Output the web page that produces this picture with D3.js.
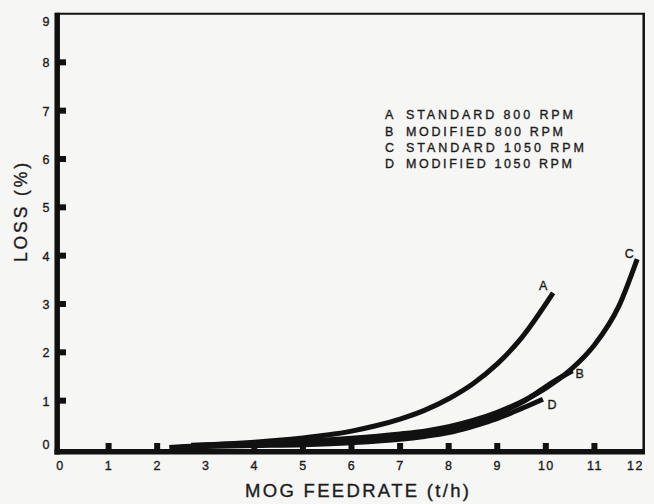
<!DOCTYPE html>
<html>
<head>
<meta charset="utf-8">
<script src="https://cdn.jsdelivr.net/npm/d3@7"></script>
<style>
  html, body { margin: 0; padding: 0; background: #f6f6f5; }
  svg { display: block; }
  text { font-family: "Liberation Sans", Arial, Helvetica, sans-serif; fill: #1c1c1c; stroke: #1c1c1c; stroke-width: 0.35px; }
</style>
</head>
<body>
<svg id="chart" width="654" height="504"></svg>
<script>
// Axis ticks
const feedTicks = [0, 1, 2, 3, 4, 5, 6, 7, 8, 9, 10, 11, 12];
const lossTicks = [0, 1, 2, 3, 4, 5, 6, 7, 8, 9];

// Curve keys and their legend text
const curveKeys = ["A", "B", "C", "D"];
const curveNames = ["STANDARD 800 RPM", "MODIFIED 800 RPM", "STANDARD 1050 RPM", "MODIFIED 1050 RPM"];

// Loss (%) against MOG feedrate (t/h), one pair of arrays per curve
const feedA = [2.7, 3.5, 4.0, 4.5, 5.0, 5.5, 6.0, 6.5, 7.0, 7.5, 8.0, 8.5, 9.0, 9.5, 10.15];
const lossA = [0.08, 0.11, 0.14, 0.18, 0.23, 0.29, 0.37, 0.48, 0.62, 0.8, 1.04, 1.35, 1.76, 2.3, 3.23];

const feedB = [2.7, 3.0, 4.0, 5.0, 6.0, 7.0, 7.5, 8.0, 8.5, 9.0, 9.5, 10.2, 10.55];
const lossB = [0.06, 0.07, 0.09, 0.12, 0.17, 0.26, 0.33, 0.43, 0.56, 0.73, 0.96, 1.42, 1.62];

const feedC = [2.25, 3.0, 4.0, 5.0, 6.0, 7.0, 7.5, 8.0, 8.5, 9.0, 9.5, 10.0, 10.5, 11.0, 11.5, 11.88];
const lossC = [0.03, 0.08, 0.12, 0.16, 0.22, 0.31, 0.37, 0.46, 0.59, 0.76, 0.98, 1.26, 1.63, 2.15, 2.95, 3.93];

const feedD = [2.5, 3.0, 4.0, 5.0, 6.0, 7.0, 7.5, 8.0, 8.4, 8.8, 9.2, 9.6, 9.94];
const lossD = [0.04, 0.05, 0.07, 0.09, 0.13, 0.2, 0.26, 0.34, 0.44, 0.56, 0.71, 0.88, 1.03];

const curves = [
  { key: "A", feed: feedA, loss: lossA },
  { key: "B", feed: feedB, loss: lossB },
  { key: "C", feed: feedC, loss: lossC },
  { key: "D", feed: feedD, loss: lossD }
];

// Where each curve's letter sits relative to the curve's last point (px)
const labelOffsets = { A: [-10, -3], B: [7, 7], C: [-8, -1], D: [9, 10] };

const svg = d3.select("#chart");

const x = d3.scaleLinear().domain([0, 12]).range([60, 643]);
const y = d3.scaleLinear().domain([0, 9]).range([449, 14]);

// Curves
const line = d3.line()
  .x(d => x(d[0]))
  .y(d => y(d[1]))
  .curve(d3.curveMonotoneX);

svg.append("g")
  .selectAll("path")
  .data(curves)
  .join("path")
  .attr("d", c => line(c.feed.map((f, i) => [f, c.loss[i]])))
  .attr("fill", "none")
  .attr("stroke", "#111")
  .attr("stroke-width", 5)
  .attr("stroke-linecap", "butt");

// Curve letters
svg.append("g")
  .selectAll("text")
  .data(curves)
  .join("text")
  .attr("x", c => x(c.feed[c.feed.length - 1]) + labelOffsets[c.key][0])
  .attr("y", c => y(c.loss[c.loss.length - 1]) + labelOffsets[c.key][1])
  .attr("text-anchor", "middle")
  .attr("font-size", 12.5)
  .text(c => c.key);

// Frame: heavy left and bottom axes, light top and right edges
const frame = svg.append("g").attr("stroke", "#111");
frame.append("line").attr("x1", 57.2).attr("x2", 57.2).attr("y1", 12.7).attr("y2", 454.5).attr("stroke-width", 5.5);
frame.append("line").attr("x1", 54.5).attr("x2", 645).attr("y1", 451.7).attr("y2", 451.7).attr("stroke-width", 5.5);
frame.append("line").attr("x1", 55).attr("x2", 645).attr("y1", 13.7).attr("y2", 13.7).attr("stroke-width", 2);
frame.append("line").attr("x1", 643.7).attr("x2", 643.7).attr("y1", 13).attr("y2", 454).attr("stroke-width", 2.5);

// Square tick marks inside the frame
svg.append("g")
  .selectAll("rect")
  .data(feedTicks.filter(v => v > 0 && v < 12))
  .join("rect")
  .attr("x", v => x(v) - 3)
  .attr("y", 443)
  .attr("width", 6)
  .attr("height", 7)
  .attr("fill", "#111");

svg.append("g")
  .selectAll("rect")
  .data(lossTicks.filter(v => v > 0 && v < 9))
  .join("rect")
  .attr("x", 58)
  .attr("y", v => y(v) - 3)
  .attr("width", 8)
  .attr("height", 6)
  .attr("fill", "#111");

// Axis labels
const xAxis = svg.append("g")
  .attr("transform", "translate(0,449)")
  .call(d3.axisBottom(x).tickValues(feedTicks).tickFormat(d3.format("d")).tickSize(0).tickPadding(12));
xAxis.select(".domain").remove();
xAxis.selectAll("text")
  .attr("font-size", 12.5)
  .attr("font-family", "\"Liberation Sans\", Arial, sans-serif")
  .attr("fill", "#1c1c1c")
  .style("letter-spacing", "1.5px")
  .attr("dx", d => d === 12 ? -8 : 0);

const yAxis = svg.append("g")
  .attr("transform", "translate(60,0)")
  .call(d3.axisLeft(y).tickValues(lossTicks).tickFormat(d3.format("d")).tickSize(0));
yAxis.select(".domain").remove();
yAxis.selectAll("text")
  .attr("text-anchor", "middle")
  .attr("x", -14)
  .attr("font-size", 12.5)
  .attr("font-family", "\"Liberation Sans\", Arial, sans-serif")
  .attr("fill", "#1c1c1c")
  .attr("dy", d => d === 0 ? "-0.08em" : d === 9 ? "0.95em" : "0.35em");

// Axis titles
svg.append("text")
  .attr("transform", "translate(27,212.5) rotate(-90)")
  .attr("text-anchor", "middle")
  .attr("font-size", 17.5)
  .attr("textLength", 99)
  .attr("lengthAdjust", "spacing")
  .text("LOSS (%)");

svg.append("text")
  .attr("x", 245)
  .attr("y", 497)
  .attr("font-size", 18.5)
  .attr("textLength", 224)
  .attr("lengthAdjust", "spacing")
  .text("MOG FEEDRATE (t/h)");

// Legend
const legendWidths = [167, 157, 178, 166];
const legend = svg.append("g");
curveKeys.forEach((k, i) => {
  const baseY = 119.3 + i * 16.3;
  legend.append("text")
    .attr("x", 385)
    .attr("y", baseY)
    .attr("font-size", 12.5)
    .text(k);
  legend.append("text")
    .attr("x", 406)
    .attr("y", baseY)
    .attr("font-size", 12.5)
    .attr("textLength", legendWidths[i])
    .attr("lengthAdjust", "spacing")
    .text(curveNames[i]);
});
</script>
</body>
</html>
